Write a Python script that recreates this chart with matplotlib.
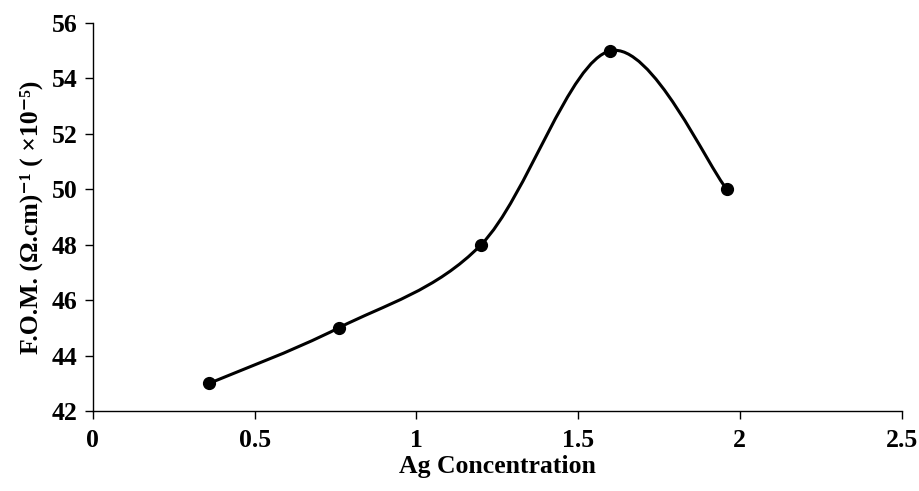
import numpy as np
import matplotlib.pyplot as plt
from matplotlib.path import Path
from matplotlib.patches import PathPatch

ag_conc = [0.36, 0.76, 1.2, 1.6, 1.96]
fom = [43, 45, 48, 55, 50]

x_ticks = [0, 0.5, 1, 1.5, 2, 2.5]
x_labels = ['0', '0.5', '1', '1.5', '2', '2.5']
y_ticks = [42, 44, 46, 48, 50, 52, 54, 56]

plt.rcParams['font.family'] = ['Liberation Serif', 'DejaVu Serif']
plt.rcParams['font.weight'] = 'bold'


def smooth_path(xs, ys):
    # cubic bezier through the points, like a spreadsheet "smoothed line"
    pts = np.column_stack([xs, ys]).astype(float)
    n = len(pts)
    verts = [pts[0]]
    codes = [Path.MOVETO]
    for i in range(n - 1):
        p_prev = pts[i - 1] if i > 0 else pts[i]
        p_next = pts[i + 2] if i + 2 < n else pts[i + 1]
        c1 = pts[i] + (pts[i + 1] - p_prev) / 6
        c2 = pts[i + 1] - (p_next - pts[i]) / 6
        verts += [c1, c2, pts[i + 1]]
        codes += [Path.CURVE4] * 3
    return Path(verts, codes)


fig = plt.figure(figsize=(9.2, 4.91), dpi=100)
ax = fig.add_axes([0.101, 0.163, 0.879, 0.79])

ax.add_patch(PathPatch(smooth_path(ag_conc, fom), facecolor='none',
                       edgecolor='black', linewidth=2.2, zorder=2))
ax.plot(ag_conc, fom, linestyle='none', marker='o', markersize=8.5,
        color='black', zorder=3)

ax.set_xlim(0, 2.5)
ax.set_ylim(42, 56)
ax.set_xticks(x_ticks)
ax.set_xticklabels(x_labels)
ax.set_yticks(y_ticks)

for side in ['top', 'right']:
    ax.spines[side].set_visible(False)
for side in ['left', 'bottom']:
    ax.spines[side].set_linewidth(1.0)

ax.tick_params(axis='both', direction='out', length=6, width=1.0,
               labelsize=18.5)
ax.tick_params(axis='x', pad=7)
ax.tick_params(axis='y', pad=5)

ax.set_xlabel('Ag Concentration', fontsize=18.5, fontweight='bold', labelpad=2)
ax.set_ylabel('F.O.M. (Ω.cm)⁻¹ ( ×10⁻⁵)',
              fontsize=18.5, fontweight='bold', labelpad=6)

fig.savefig('out.png', dpi=100)
